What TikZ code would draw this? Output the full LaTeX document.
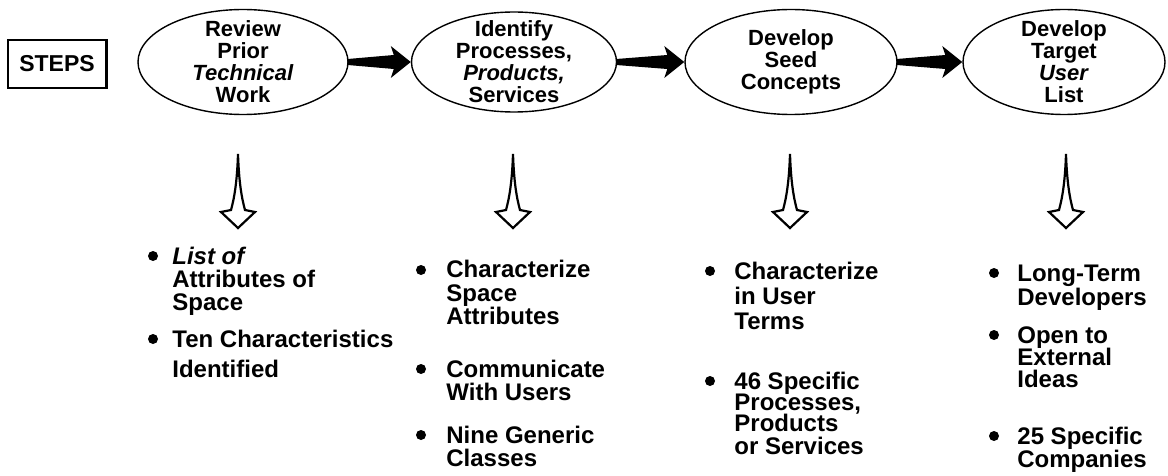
\documentclass[tikz,border=0pt]{standalone}
\usepackage{fontspec}
\setmainfont{Liberation Sans}
\usetikzlibrary{calc,shapes.geometric}
\tikzset{
  ell/.style={draw, ellipse, line width=0.7pt, inner sep=0pt},
  toptext/.style={font=\fontsize{11}{11}\selectfont\bfseries, align=center, inner sep=0pt},
  itemtext/.style={font=\fontsize{12}{11.5}\selectfont\bfseries, anchor=base west, inner sep=0pt},
  bul/.style={circle, fill=black, inner sep=0pt, minimum size=5pt},
  stepsbox/.style={draw, line width=0.7pt, minimum width=49pt, minimum height=24pt, inner sep=0pt, font=\fontsize{11.5}{12}\selectfont\bfseries},
  hollowarrow/.style={draw, line width=1.1pt, line join=miter, fill=white}
}
\newcommand{\flowarrow}[2]{%
  \fill ($(#1.east)+(-1,-3)$) -- ($(#2.west)+(-17,-7)$) -- ($(#2.west)+(-20,-16)$) -- (#2.west)
     -- ($(#2.west)+(-20,16)$) -- ($(#2.west)+(-17,7)$) -- ($(#1.east)+(-1,3)$) -- cycle;}
\tikzset{
  pics/downarrow/.style={code={
    \draw[hollowarrow] (0,0) .. controls (-1,30) and (-4,45) .. (-7,56) -- (-17,58) -- (0,74)
      -- (17,58) -- (7,56) .. controls (4,45) and (1,30) .. (0,0) -- cycle;
  }}
}
\begin{document}
\begin{tikzpicture}[x=0.5pt,y=-0.5pt]
\useasboundingbox (0,0) rectangle (1168,476);

% STEPS box
\node[stepsbox] (steps) at (57,64) {STEPS};
\draw[line width=1.4pt] (steps.north east) -- (steps.south east);

% ellipses
\node[ell, minimum width=105pt, minimum height=52.5pt] (e1) at (243,62) {};
\node[toptext] (t1) at (e1) {Review\\Prior\\\textit{Technical}\\Work};
\node[ell, minimum width=102.5pt, minimum height=50pt] (e2) at (514,62) {};
\node[toptext] (t2) at (e2) {Identify\\Processes,\\\textit{Products,}\\Services};
\node[ell, minimum width=106pt, minimum height=52.5pt] (e3) at (791,62) {};
\node[toptext] (t3) at (e3) {Develop\\Seed\\Concepts};
\node[ell, minimum width=101pt, minimum height=52.5pt] (e4) at (1064,62) {};
\node[toptext] (t4) at (e4) {Develop\\Target\\\textit{User}\\List};

% flow arrows
\flowarrow{e1}{e2}
\flowarrow{e2}{e3}
\flowarrow{e3}{e4}

% down arrows
\coordinate (d1) at (238,154);
\coordinate (d2) at (513,154);
\coordinate (d3) at (790,154);
\coordinate (d4) at (1066,154);
\pic at (d1) {downarrow};
\pic at (d2) {downarrow};
\pic at (d3) {downarrow};
\pic at (d4) {downarrow};

% column 1
\node[bul] (b11) at (153,256) {};
\node[itemtext] (c1a) at (172,264) {\itshape List of};
\node[itemtext] (c1b) at (172,287) {Attributes of};
\node[itemtext] (c1c) at (172,310) {Space};
\node[bul] (b12) at (153,339) {};
\node[itemtext] (c1d) at (172,347) {Ten Characteristics};
\node[itemtext] (c1e) at (172,377) {Identified};

% column 2
\node[bul] (b21) at (421,270) {};
\node[itemtext] (c2a) at (446,278) {Characterize};
\node[itemtext] (c2b) at (446,301) {Space};
\node[itemtext] (c2c) at (446,324) {Attributes};
\node[bul] (b22) at (421,369) {};
\node[itemtext] (c2d) at (446,377) {Communicate};
\node[itemtext] (c2e) at (446,400) {With Users};
\node[bul] (b23) at (421,435) {};
\node[itemtext] (c2f) at (446,443) {Nine Generic};
\node[itemtext] (c2g) at (446,466) {Classes};

% column 3
\node[bul] (b31) at (710,271) {};
\node[itemtext] (c3a) at (734,279) {Characterize};
\node[itemtext] (c3b) at (734,304) {in User};
\node[itemtext] (c3c) at (734,329) {Terms};
\node[bul] (b32) at (710,381) {};
\node[itemtext] (c3d) at (734,389) {46 Specific};
\node[itemtext] (c3e) at (734,410) {Processes,};
\node[itemtext] (c3f) at (734,431) {Products};
\node[itemtext] (c3g) at (734,454) {or Services};

% column 4
\node[bul] (b41) at (994,273) {};
\node[itemtext] (c4a) at (1017,281) {Long-Term};
\node[itemtext] (c4b) at (1017,305) {Developers};
\node[bul] (b42) at (994,335) {};
\node[itemtext] (c4c) at (1017,343) {Open to};
\node[itemtext] (c4d) at (1017,365) {External};
\node[itemtext] (c4e) at (1017,387) {Ideas};
\node[bul] (b43) at (994,436) {};
\node[itemtext] (c4f) at (1017,444) {25 Specific};
\node[itemtext] (c4g) at (1017,467) {Companies};
\end{tikzpicture}
\end{document}
